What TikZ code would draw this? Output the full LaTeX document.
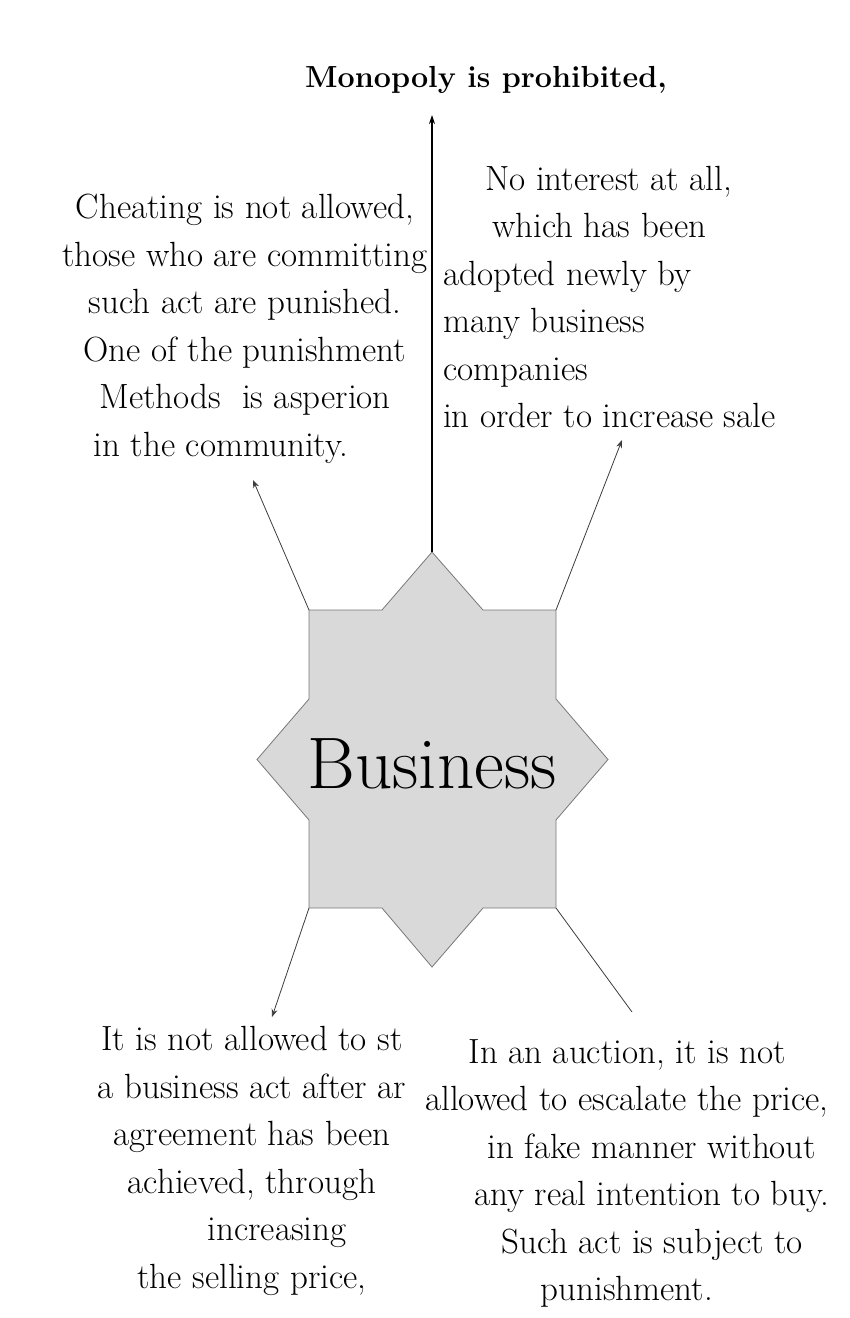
\documentclass[tikz,border=0pt]{standalone}
\usetikzlibrary{arrows.meta}
\definecolor{starfill}{RGB}{217,217,217}
\definecolor{starline}{RGB}{120,120,120}
\definecolor{linkgray}{RGB}{60,60,60}
\tikzset{
  boxtext/.style={inner sep=0pt, font=\fontsize{35}{47.5}\selectfont},
  thinline/.style={draw=linkgray, line width=0.8},
  thinarrow/.style={thinline, -{Stealth[length=8pt,width=6pt]}},
}
\begin{document}
\begin{tikzpicture}[x=1pt,y=1pt,yscale=-1]
\useasboundingbox (0,0) rectangle (850,1318);

%Shape: Star
\draw [fill=starfill, draw=starline, line width=0.8] (432,552) -- (483,610) -- (556,610) -- (556,699) -- (608,759.5) -- (556,820) -- (556,908) -- (483,908) -- (432,967) -- (382,908) -- (309,908) -- (309,820) -- (257,759.5) -- (309,699) -- (309,610) -- (382,610) -- cycle ;
\coordinate (toptip) at (432,552);
\coordinate (cornerTL) at (309,610);
\coordinate (cornerTR) at (556,610);
\coordinate (cornerBL) at (309,908);
\coordinate (cornerBR) at (556,908);

%Free ends of the connectors
\coordinate (monoend) at (432,115);
\coordinate (cheatend) at (253,480);
\coordinate (interestend) at (622,440);
\coordinate (resellend) at (272,1017);
\coordinate (auctionend) at (632,1012);

%Straight Lines
\draw [line width=1.3, -{Stealth[length=9pt,width=6pt]}] (toptip) -- (monoend) ;
%Straight Lines
\draw [thinarrow] (cornerTL) -- (cheatend) ;
%Straight Lines
\draw [thinarrow] (cornerTR) -- (interestend) ;
%Straight Lines
\draw [thinarrow] (cornerBL) -- (resellend) ;
%Straight Lines
\draw [thinline] (cornerBR) -- (auctionend) ;

% Text Node
\node (business) [inner sep=0pt, anchor=base, font=\fontsize{73}{80}\selectfont] at (432,788) {Business};
% Text Node
\node (monopoly) [inner sep=0pt, anchor=base, font=\fontsize{30.5}{40}\selectfont\bfseries] at (486,87) {Monopoly is prohibited,};
% Text Node
\node (cheating) [boxtext, align=center, anchor=north] at (245,194) {Cheating is not allowed,\\ those who are committing\\ such act are punished.\\ One of the punishment\\ Methods\ \ is asperion\hspace*{48pt}\\ in the community.\hspace*{48pt}};
% Text Node
\node (interest) [boxtext, align=left, anchor=north west] at (443,166) {\hspace*{42pt}No interest at all,\\ \hspace*{49pt}which has been\\ adopted newly by\\ many business\\ companies\\ in order to increase sale};
% Text Node
\node (resell) [boxtext, align=center, anchor=north] at (252,1026) {It is not allowed to st\\ a business act after ar\\ agreement has been\\ achieved, through\\ \hspace*{50pt}increasing\\ the selling price,};
% Text Node
\node (auction) [boxtext, align=center, anchor=north] at (627,1039) {In an auction, it is not\\ allowed to escalate the price,\\ \hspace*{50pt}in fake manner without\\ \hspace*{50pt}any real intention to buy.\\ \hspace*{50pt}Such act is subject to\\ punishment.};
\end{tikzpicture}
\end{document}
